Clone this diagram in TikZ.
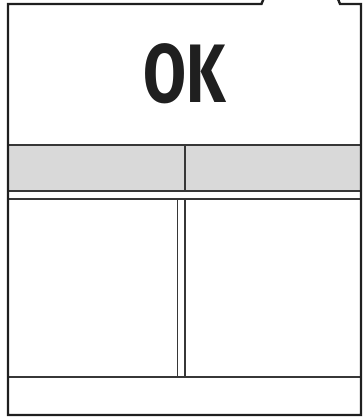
\documentclass[tikz,border=0pt]{standalone}
\usepackage{fontspec}
\newfontfamily\signfont{Fira Sans}
\usepackage{tikz}
\definecolor{bandgray}{RGB}{217,217,217}
\definecolor{linegray}{RGB}{55,55,55}

\begin{document}
\begin{tikzpicture}[
    x=1pt, y=-1pt,
    frame/.style={draw=black!88, line width=2.4pt, line join=miter},
    thinline/.style={draw=linegray, line width=1.1pt},
    heavyline/.style={draw=linegray, line width=1.7pt},
    bigtext/.style={font=\signfont\bfseries\fontsize{83}{83}\selectfont, text=black!88, inner sep=0pt, xscale=0.75}
]
\useasboundingbox (0,0) rectangle (363,417);
% grey band
\fill[bandgray] (8,145) rectangle (361,191);
\draw[thinline] (8,145) -- (361,145);
\draw[heavyline] (8,191) -- (361,191);
\draw[thinline] (185,145) -- (185,191);
% lower panel
\draw[thinline] (8,199) -- (361,199);
\draw[thinline] (177.5,199) rectangle (185,377);
\draw[thinline] (8,377) -- (361,377);
% outer frame with notch
\draw[frame] (263.5,-1) -- (261.5,4) -- (8,4) -- (8,415) -- (361,415) -- (361,4) -- (340,4) -- (338,-1);
\node[bigtext] (oklabel) at (185,73.5) {OK};
\end{tikzpicture}
\end{document}
